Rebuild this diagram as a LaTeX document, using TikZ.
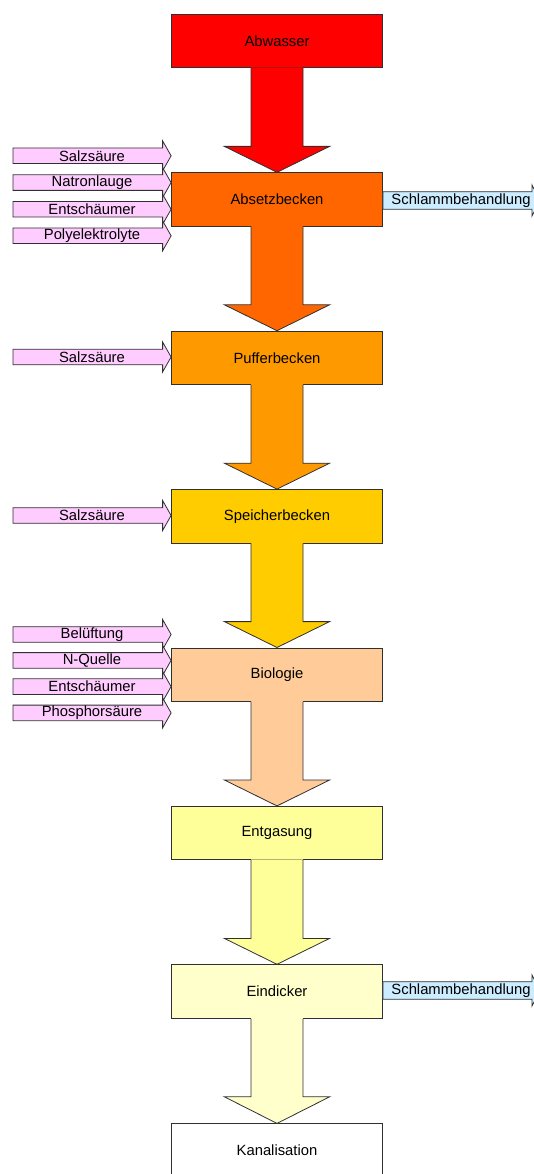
\documentclass[tikz,border=0pt]{standalone}
\usepackage{fontspec}
\setmainfont{Liberation Sans}
\usetikzlibrary{calc}
\definecolor{cAbw}{HTML}{FF0000}
\definecolor{cAbs}{HTML}{FF6600}
\definecolor{cPuf}{HTML}{FF9900}
\definecolor{cSpe}{HTML}{FFCC00}
\definecolor{cBio}{HTML}{FFCC99}
\definecolor{cEnt}{HTML}{FFFF99}
\definecolor{cEin}{HTML}{FFFFCC}
\definecolor{cIn}{HTML}{FFCCFF}
\definecolor{cOut}{HTML}{CCECFF}
\definecolor{cLine}{HTML}{303030}
\tikzset{
  stage/.style={draw=cLine, line width=0.8pt, minimum width=211pt, minimum height=53.4pt, inner sep=0pt, font=\fontsize{14.8}{17}\selectfont},
  outl/.style={draw=cLine, line width=0.8pt, line join=miter},
  lbl/.style={inner sep=0pt, font=\fontsize{14.8}{17}\selectfont}
}
% T-arrow from box #1 to box #2 with colour #3
\newcommand{\tarrowdraw}[3]{%
  \fill[#3] ($(#1.south)+(-26,-0.8)$) -- ($(#1.south)+(-26,78.3)$) -- ($(#1.south)+(-52.6,78.3)$) -- (#2.north)
     -- ($(#1.south)+(52.6,78.3)$) -- ($(#1.south)+(26,78.3)$) -- ($(#1.south)+(26,-0.8)$) -- cycle;
  \draw[outl] ($(#1.south)+(-26,0)$) -- ($(#1.south)+(-26,78.3)$) -- ($(#1.south)+(-52.6,78.3)$) -- (#2.north)
     -- ($(#1.south)+(52.6,78.3)$) -- ($(#1.south)+(26,78.3)$) -- ($(#1.south)+(26,0)$);
}
% input arrow into box #1, at absolute y #2, name #3, text #4
\newcommand{\inarrow}[4]{%
  \path let \p1=(#1.west) in coordinate (#3tip) at (\x1,#2);
  \path[fill=cIn, outl] (13,#2-7.8) -- ($(#3tip)+(-8.5,-7.8)$) -- ($(#3tip)+(-8.5,-15)$) -- (#3tip)
     -- ($(#3tip)+(-8.5,15)$) -- ($(#3tip)+(-8.5,7.8)$) -- (13,#2+7.8) -- cycle;
  \node[lbl] (#3) at (92,#2) {#4};
}
\newcommand{\outarrow}[4]{%
  \path let \p1=(#1.east) in coordinate (#3base) at (\x1,#2);
  \path[fill=cOut, outl] ($(#3base)+(0,-8.8)$) -- (532,#2-8.8) -- (532,#2-15.5) -- (540,#2)
     -- (532,#2+15.5) -- (532,#2+8.8) -- ($(#3base)+(0,8.8)$) -- cycle;
  \node[lbl] (#3) at (461,#2) {#4};
}
\begin{document}
\begin{tikzpicture}[x=1pt,y=-1pt]
\useasboundingbox (0,0) rectangle (534,1174);
\clip (0,0) rectangle (534,1174);
\node[stage, fill=cAbw] (abw) at (277,41) {Abwasser};
\node[stage, fill=cAbs] (abs) at (277,199.4) {Absetzbecken};
\node[stage, fill=cPuf] (puf) at (277,357.8) {Pufferbecken};
\node[stage, fill=cSpe] (spe) at (277,516.2) {Speicherbecken};
\node[stage, fill=cBio] (bio) at (277,674.6) {Biologie};
\node[stage, fill=cEnt] (ent) at (277,833) {Entgasung};
\node[stage, fill=cEin] (ein) at (277,991.4) {Eindicker};
\node[stage, fill=white, minimum height=60pt, anchor=north] (kan) at (277,1123.4) {};
\node[lbl] (kantext) at (277,1150) {Kanalisation};
\tarrowdraw{abw}{abs}{cAbw}
\tarrowdraw{abs}{puf}{cAbs}
\tarrowdraw{puf}{spe}{cPuf}
\tarrowdraw{spe}{bio}{cSpe}
\tarrowdraw{bio}{ent}{cBio}
\tarrowdraw{ent}{ein}{cEnt}
\tarrowdraw{ein}{kan}{cEin}
\inarrow{abs}{155.8}{a1}{Salzsäure}
\inarrow{abs}{182.6}{a2}{Natronlauge}
\inarrow{abs}{209.3}{a3}{Entschäumer}
\inarrow{abs}{235.8}{a4}{Polyelektrolyte}
\inarrow{puf}{357}{p1}{Salzsäure}
\inarrow{spe}{515.5}{s1}{Salzsäure}
\inarrow{bio}{634.5}{b1}{Belüftung}
\inarrow{bio}{660.4}{b2}{N-Quelle}
\inarrow{bio}{686.6}{b3}{Entschäumer}
\inarrow{bio}{712.9}{b4}{Phosphorsäure}
\outarrow{abs}{200.5}{o1}{Schlammbehandlung}
\outarrow{ein}{990.5}{o2}{Schlammbehandlung}
\end{tikzpicture}
\end{document}
